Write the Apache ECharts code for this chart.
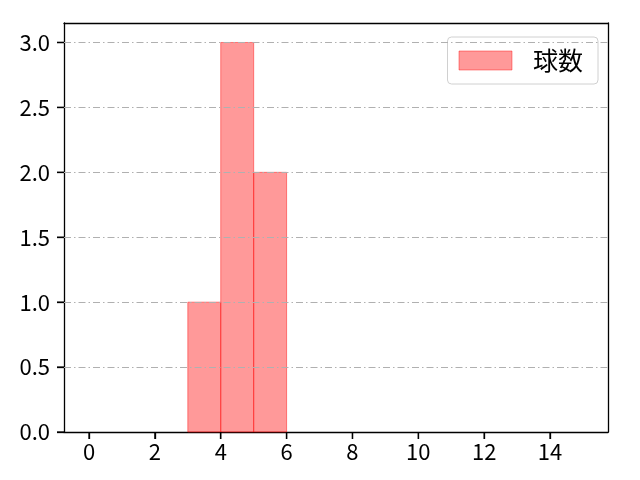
<!DOCTYPE html>
<html>
<head>
<meta charset="UTF-8">
<title>球数</title>
<script src="https://cdn.jsdelivr.net/npm/echarts@6/dist/echarts.min.js"></script>
<style>
  html, body { margin: 0; padding: 0; background: #fff; }
  #main { width: 640px; height: 480px; }
</style>
</head>
<body>
<div id="main"></div>
<script type="text/javascript">
// histogram bins: left edge, right edge, count
var binStart = [3, 4, 5];
var binEnd = [4, 5, 6];
var counts = [1, 3, 2];
var xTicks = [0, 2, 4, 6, 8, 10, 12, 14];
var yTicks = [0, 0.5, 1.0, 1.5, 2.0, 2.5, 3.0];
var seriesName = '球数';

var font = '"Noto Sans CJK JP", "Noto Sans", sans-serif';
var TICK_LEN = 7;
var X_MIN = -0.76, X_MAX = 15.76, Y_MIN = 0, Y_MAX = 3.15;

var data = [];
for (var i = 0; i < counts.length; i++) {
  data.push([binStart[i], binEnd[i], counts[i]]);
}
var xTickData = xTicks.map(function (v) { return [v, 0]; });
var yTickData = yTicks.map(function (v) { return [X_MIN, v]; });

var frameLine = { show: true, onZero: false, lineStyle: { color: '#000', width: 1.3 } };
var tickStyle = { color: '#000', width: 1.3 };

var myChart = echarts.init(document.getElementById('main'));
var option = {
  animation: false,
  grid: { left: 64, right: 32, top: 23, bottom: 48 },
  legend: {
    top: 37, right: 42,
    backgroundColor: '#fff',
    borderColor: '#d0d0d0', borderWidth: 1, borderRadius: 4,
    padding: [11, 15, 11, 11],
    itemWidth: 53, itemHeight: 19,
    textStyle: { fontFamily: font, fontSize: 25, color: '#000', padding: [0, 0, 0, 16] },
    data: [{ name: seriesName, icon: 'rect', itemStyle: { color: 'rgba(255,0,0,0.4)', borderColor: 'rgba(255,0,0,0.4)', borderWidth: 1 } }]
  },
  xAxis: [
    {
      type: 'value', position: 'bottom',
      min: X_MIN, max: X_MAX,
      axisLine: frameLine,
      axisTick: { show: true, customValues: xTicks, length: TICK_LEN, lineStyle: tickStyle },
      axisLabel: { customValues: xTicks, fontFamily: font, fontSize: 22, color: '#000', margin: 9 },
      splitLine: { show: false }
    },
    {
      // top edge of the frame
      type: 'value', position: 'top',
      min: X_MIN, max: X_MAX,
      axisLine: frameLine,
      axisTick: { show: false }, axisLabel: { show: false }, splitLine: { show: false }
    }
  ],
  yAxis: [
    {
      type: 'value', position: 'left',
      min: Y_MIN, max: Y_MAX,
      axisLine: frameLine,
      axisTick: { show: true, customValues: yTicks, length: TICK_LEN, lineStyle: tickStyle },
      axisLabel: {
        customValues: yTicks, fontFamily: font, fontSize: 22, color: '#000', margin: 14,
        formatter: function (v) { return v.toFixed(1); }
      },
      splitLine: { show: false }
    },
    {
      // right edge of the frame
      type: 'value', position: 'right',
      min: Y_MIN, max: Y_MAX,
      axisLine: frameLine,
      axisTick: { show: false }, axisLabel: { show: false }, splitLine: { show: false }
    }
  ],
  series: [
    {
      // horizontal dash-dot grid lines (the one at 0 sits under the axis)
      type: 'line',
      data: [],
      silent: true,
      z: 0,
      markLine: {
        symbol: 'none', silent: true, label: { show: false },
        lineStyle: { color: '#b0b0b0', width: 1, type: [7, 3, 1.5, 3] },
        data: yTicks.filter(function (v) { return v > 0; }).map(function (v) { return { yAxis: v }; })
      }
    },
    {
      name: seriesName,
      type: 'custom',
      data: data,
      encode: { x: [0, 1], y: 2 },
      renderItem: function (params, api) {
        var p0 = api.coord([api.value(0), api.value(2)]);
        var p1 = api.coord([api.value(1), 0]);
        return {
          type: 'rect',
          shape: { x: p0[0], y: p0[1], width: p1[0] - p0[0], height: p1[1] - p0[1] },
          style: { fill: 'rgba(255,0,0,0.4)', stroke: 'rgba(255,0,0,0.45)', lineWidth: 1 }
        };
      }
    },
    {
      // outward tick marks on the x axis
      type: 'custom',
      silent: true,
      clip: false,
      data: xTickData,
      encode: { x: 0, y: 1 },
      renderItem: function (params, api) {
        var p = api.coord([api.value(0), api.value(1)]);
        return {
          type: 'line',
          shape: { x1: p[0], y1: p[1], x2: p[0], y2: p[1] + TICK_LEN },
          style: { stroke: '#000', lineWidth: 1.3 }
        };
      }
    },
    {
      // outward tick marks on the y axis
      type: 'custom',
      silent: true,
      clip: false,
      data: yTickData,
      encode: { x: 0, y: 1 },
      renderItem: function (params, api) {
        var p = api.coord([api.value(0), api.value(1)]);
        return {
          type: 'line',
          shape: { x1: p[0] - TICK_LEN, y1: p[1], x2: p[0], y2: p[1] },
          style: { stroke: '#000', lineWidth: 1.3 }
        };
      }
    }
  ]
};
myChart.setOption(option);
</script>
</body>
</html>
